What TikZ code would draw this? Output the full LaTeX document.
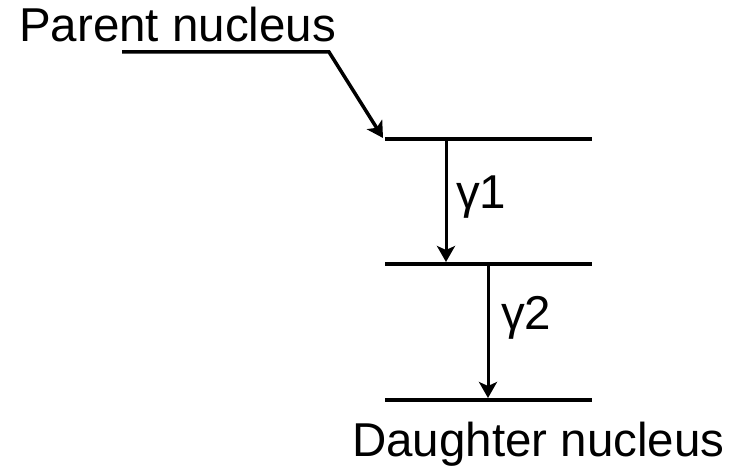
\documentclass[tikz,border=0pt]{standalone}
\usepackage{fontspec}
\setmainfont{Liberation Sans}
\usetikzlibrary{arrows.meta}
\begin{document}
\begin{tikzpicture}[x=1pt,y=1pt,
  lbl/.style={inner sep=0pt,font=\fontsize{47.5}{57}\selectfont},
  level/.style={line width=3.8pt},
  trans/.style={line width=3pt,-{Stealth[length=16pt,width=18pt,inset=4pt]}}]
\useasboundingbox (0,0) rectangle (741,468);
% levels
\coordinate (l1w) at (385,329); \coordinate (l1e) at (592,329);
\coordinate (l2w) at (385,204); \coordinate (l2e) at (592,204);
\coordinate (l3w) at (385,68);  \coordinate (l3e) at (592,68);
\draw[level] (l1w) -- (l1e);
\draw[level] (l2w) -- (l2e);
\draw[level] (l3w) -- (l3e);
% texts
\node[lbl,anchor=base west] (parent) at (19,426) {Parent nucleus};
\node[lbl,anchor=base west] (daughter) at (352,11) {Daughter nucleus};
\node[lbl,anchor=base west] (g1) at (456,259) {γ1};
\node[lbl,anchor=base west] (g2) at (501,138) {γ2};
% feeding
\coordinate (fs) at (122,416);
\coordinate (fk) at (329,416);
\coordinate (ft) at (383,330);
\draw[trans,line width=3.5pt,line join=miter] (fs) -- (fk) -- (ft);
% gamma transitions
\coordinate (a1s) at (446,329); \coordinate (a1e) at (446,206);
\coordinate (a2s) at (488,204); \coordinate (a2e) at (488,70);
\draw[trans] (a1s) -- (a1e);
\draw[trans] (a2s) -- (a2e);
\end{tikzpicture}
\end{document}
